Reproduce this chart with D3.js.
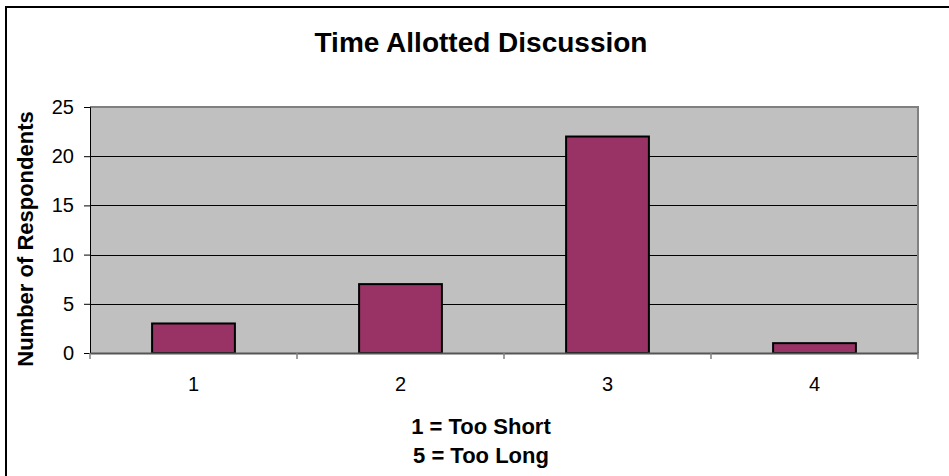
<!DOCTYPE html>
<html>
<head>
<meta charset="utf-8">
<script src="https://cdn.jsdelivr.net/npm/d3@7"></script>
<style>
  html, body { margin: 0; padding: 0; background: #fff; }
  svg { display: block; font-family: Arial, "Liberation Sans", sans-serif; }
</style>
</head>
<body>
<svg id="chart" width="949" height="476"></svg>
<script>
const categories = ["1", "2", "3", "4"];
const values = [3, 7, 22, 1];
const yTicks = [0, 5, 10, 15, 20, 25];
const titleText = "Time Allotted Discussion";
const yTitle = "Number of Respondents";
const xTitleLines = ["1 = Too Short", "5 = Too Long"];

const svg = d3.select("#chart");
const plot = { left: 90, right: 918, top: 107, bottom: 353 };
const FONT = "Arial, 'Liberation Sans', sans-serif";

// outer chart border (cropped on right/bottom)
svg.append("rect")
  .attr("x", 6).attr("y", 7).attr("width", 980).attr("height", 500)
  .attr("fill", "#fff").attr("stroke", "#000").attr("stroke-width", 2);

const x = d3.scaleBand().domain(categories).range([plot.left, plot.right]).paddingInner(0.6).paddingOuter(0.3);
const xb = d3.scaleBand().domain(categories).range([plot.left, plot.right]);
const y = d3.scaleLinear().domain([0, 25]).range([plot.bottom, plot.top]);

// plot background
svg.append("rect")
  .attr("x", plot.left).attr("y", plot.top)
  .attr("width", plot.right - plot.left).attr("height", plot.bottom - plot.top)
  .attr("fill", "#C0C0C0");

// gridlines
svg.append("g").selectAll("line").data(yTicks.filter(d => d > 0 && d < 25)).join("line")
  .attr("x1", plot.left).attr("x2", plot.right)
  .attr("y1", d => Math.round(y(d)) + 0.5).attr("y2", d => Math.round(y(d)) + 0.5)
  .attr("stroke", "#000").attr("stroke-width", 1);

// plot border (top/right gray)
svg.append("path")
  .attr("d", `M${plot.left},${plot.top}H${plot.right}V${plot.bottom}`)
  .attr("fill", "none").attr("stroke", "#808080").attr("stroke-width", 2);

// bars
svg.append("g").selectAll("rect").data(values).join("rect")
  .attr("x", (d, i) => x(categories[i]))
  .attr("width", x.bandwidth())
  .attr("y", d => y(d))
  .attr("height", d => y(0) - y(d))
  .attr("fill", "#993366").attr("stroke", "#000").attr("stroke-width", 2);

// y axis
const yAxis = d3.axisLeft(y).tickValues(yTicks).tickSize(6).tickPadding(10);
const gy = svg.append("g").attr("transform", `translate(${plot.left},0)`).call(yAxis);
gy.select(".domain").attr("stroke", "#000").attr("stroke-width", 1);
gy.selectAll(".tick line").attr("stroke", "#000");
gy.selectAll(".tick text").attr("font-size", 20).attr("fill", "#000").attr("font-family", FONT);

// x axis
const xAxis = d3.axisBottom(xb).tickSize(0).tickPadding(24);
const gx = svg.append("g").attr("transform", `translate(0,${plot.bottom})`).call(xAxis);
gx.select(".domain").attr("stroke", "#555").attr("stroke-width", 2);
gx.selectAll(".tick text").attr("font-size", 20).attr("fill", "#000").attr("font-family", FONT);
// tick marks between categories
const bounds = categories.map(c => xb(c)).concat([plot.right]);
svg.append("g").selectAll("line").data(bounds).join("line")
  .attr("x1", d => d).attr("x2", d => d)
  .attr("y1", plot.bottom).attr("y2", plot.bottom + 6)
  .attr("stroke", "#808080").attr("stroke-width", 1.5);

// title
svg.append("text")
  .attr("x", 481).attr("y", 52)
  .attr("text-anchor", "middle")
  .attr("font-size", 28).attr("font-weight", "bold")
  .text(titleText);

// y title
svg.append("text")
  .attr("transform", `translate(33,239) rotate(-90)`)
  .attr("text-anchor", "middle")
  .attr("font-size", 22).attr("font-weight", "bold")
  .text(yTitle);

// x title
svg.append("g").selectAll("text").data(xTitleLines).join("text")
  .attr("x", 481).attr("y", (d, i) => 434 + i * 29)
  .attr("text-anchor", "middle")
  .attr("font-size", 22).attr("font-weight", "bold")
  .text(d => d);
</script>
</body>
</html>
